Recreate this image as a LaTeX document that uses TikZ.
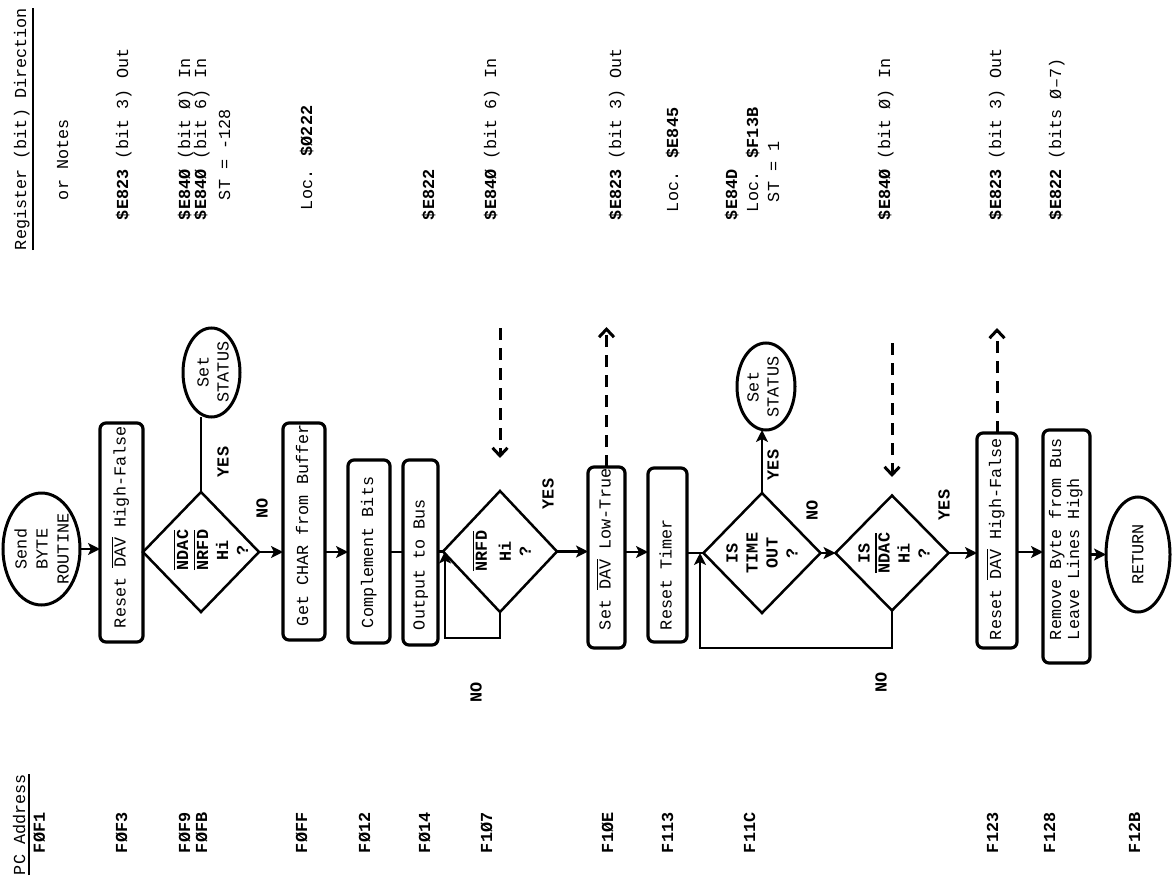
\documentclass[tikz,border=0pt]{standalone}
\usepackage{fontspec}
\setmainfont{Liberation Mono}
\usepackage{graphicx}
\usetikzlibrary{arrows.meta,shapes.geometric}
\newcommand\olx[1]{\vbox{\hrule height 1.3pt\kern 1.6pt\hbox{#1}}}
\newcommand\ulx[1]{\vtop{\hbox{#1}\kern 2.5pt\hrule height 1.8pt}}
\newcommand\boxtext[2]{\rotatebox{90}{\makebox[#1][l]{\strut #2}}}
\newcommand\cf{\fontsize{16.8}{20}\selectfont}
\begin{document}
\begin{tikzpicture}[x=1pt,y=-1pt,
  every node/.style={inner sep=0pt, outer sep=0pt, font=\cf},
  pbox/.style={draw, line width=3.2pt, rounded corners=6pt, rectangle},
  oval/.style={draw, ellipse, line width=3pt},
  dia/.style={draw, diamond, line width=2.5pt},
  ctext/.style={rotate=90, align=center},
  dtext/.style={rotate=90, align=center, font=\cf\bfseries},
  coltext/.style={rotate=90, anchor=base west},
  addr/.style={coltext, font=\cf\bfseries},
  lbl/.style={rotate=90, font=\cf\bfseries},
  con/.style={line width=2.8pt},
  arr/.style={con, -{Stealth[length=12pt,width=12pt,inset=3pt]}},
  dasharr/.style={line width=3pt, dash pattern=on 12pt off 8pt, -{Straight Barb[length=8pt,width=15pt]}},
]
\useasboundingbox (0,0) rectangle (1176,878);

% ---------- left column: PC addresses ----------
\node[coltext] (pch) at (25,875) {\ulx{PC Address}};
\node[addr] (p1) at (45,853) {FØF1};
\node[addr] (p2) at (127,853) {FØF3};
\node[addr] (p3) at (190,853) {FØF9};
\node[addr] (p4) at (207,853) {FØFB};
\node[addr] (p5) at (307,853) {FØFF};
\node[addr] (p6) at (370,853) {FØ12};
\node[addr] (p7) at (430,853) {FØ14};
\node[addr] (p8) at (492,853) {F1Ø7};
\node[addr] (p9) at (613,853) {F1ØE};
\node[addr] (p10) at (673,853) {F113};
\node[addr] (p11) at (755,853) {F11C};
\node[addr] (p12) at (998,853) {F123};
\node[addr] (p13) at (1055,853) {F128};
\node[addr] (p14) at (1140,853) {F12B};

% ---------- right column: registers / notes ----------
\node[coltext] (rh) at (26,250) {\ulx{Register (bit) Direction}};
\node[coltext] (rn) at (68,200) {or Notes};
\node[coltext] (q1) at (128,220) {\textbf{\$E823} (bit 3) Out};
\node[coltext] (q2) at (190,220) {\textbf{\$E84Ø} (bit Ø) In};
\node[coltext] (q3) at (206,220) {\textbf{\$E84Ø} (bit 6) In};
\node[coltext] (q4) at (230,200) {ST = -128};
\node[coltext] (q5) at (312,210) {Loc. \textbf{\$Ø222}};
\node[coltext] (q6) at (434,220) {\textbf{\$E822}};
\node[coltext] (q7) at (496,220) {\textbf{\$E84Ø} (bit 6) In};
\node[coltext] (q8) at (621,220) {\textbf{\$E823} (bit 3) Out};
\node[coltext] (q9) at (678,212) {Loc. \textbf{\$E845}};
\node[coltext] (q10) at (737,220) {\textbf{\$E84D}};
\node[coltext] (q11) at (758,212) {Loc. \textbf{\$F13B}};
\node[coltext] (q12) at (779,202) {ST = 1};
\node[coltext] (q13) at (890,220) {\textbf{\$E84Ø} (bit Ø) In};
\node[coltext] (q14) at (1001,220) {\textbf{\$E823} (bit 3) Out};
\node[coltext] (q15) at (1061,220) {\textbf{\$E822} (bits Ø–7)};

% ---------- flowchart shapes ----------
\coordinate (flow) at (0,552);

\node[oval, minimum width=77, minimum height=112] (start) at (41.5,549) {};
\node[ctext, font=\fontsize{16.8}{21}\selectfont] (startt) at (start.center) {Send\\BYTE\\ROUTINE};

\node[pbox, minimum width=43, minimum height=219] (r1) at (121.5,532.5)
  {\boxtext{191pt}{Reset \olx{DAV} High-False}};

\node[dia, minimum width=116, minimum height=120] (d1) at (201,552) {};
\node[dtext] (d1t) at (211,550) {\olx{NDAC}\\\olx{NRFD}\\Hi\\?};

\node[oval, minimum width=57, minimum height=89] (s1) at (211.5,372.5) {};
\node[ctext] (s1t) at (213,372) {Set\\STATUS};

\node[pbox, minimum width=42, minimum height=217] (r2) at (304,531.5)
  {\boxtext{189pt}{Get CHAR from Buffer}};
\node[pbox, minimum width=42, minimum height=183] (r3) at (369,551.5)
  {\boxtext{153pt}{Complement Bits}};
\node[pbox, minimum width=35, minimum height=185] (r4) at (420.5,552.5)
  {\boxtext{155pt}{Output to Bus}};

\node[dia, minimum width=114, minimum height=121] (d2) at (500,551.5) {};
\node[dtext] (d2t) at (502,551) {\olx{NRFD}\\[4pt]Hi\\?};

\node[pbox, minimum width=37, minimum height=181] (r5) at (606.5,557.5)
  {\boxtext{145pt}{Set \olx{DAV} Low-True}};
\node[pbox, minimum width=39, minimum height=174] (r6) at (667.5,555)
  {\boxtext{150pt}{Reset Timer}};

\node[dia, minimum width=117, minimum height=120] (d3) at (762,553) {};
\node[dtext] (d3t) at (762,553) {IS\\TIME\\OUT\\?};

\node[oval, minimum width=58, minimum height=87] (s2) at (766,386.5) {};
\node[ctext] (s2t) at (763,387) {Set\\STATUS};

\node[dia, minimum width=113, minimum height=115] (d4) at (892,553) {};
\node[dtext] (d4t) at (894,553) {IS\\\olx{NDAC}\\Hi\\?};

\node[pbox, minimum width=40, minimum height=215] (r7) at (997,540.5)
  {\boxtext{199pt}{Reset \olx{DAV} High-False}};
\node[pbox, minimum width=47, minimum height=233] (r8) at (1066.5,546.5)
  {\rotatebox{90}{\makebox[187pt][l]{\fontsize{16.8}{18}\selectfont\begin{tabular}{@{}l@{}}Remove Byte from Bus\\Leave Lines High\end{tabular}}}};

\node[oval, minimum width=64, minimum height=115] (end) at (1138,554.5) {};
\node[ctext] (endt) at (end.center) {RETURN};

% ---------- connectors ----------
\draw[arr] (start.east) -- (start.east -| r1.west);
\draw[con] (d1.north) -- (d1.north |- s1.south);
\draw[arr] (d1.east) -- (d1.east -| r2.west);
\draw[arr] (r2.east |- flow) -- (r3.west |- flow);
\draw[con] (r3.east |- flow) -- (r4.west |- flow);
\draw[con] (r4.east |- d2.west) -- (d2.west);

\coordinate (l1) at (500,638);
\coordinate (l2) at (445,638);
\draw[arr] (d2.south) -- (l1) -- (l2) -- (l2 |- d2.west);

\coordinate (dn1) at (500,328);
\coordinate (dn1e) at (500,458);
\draw[dasharr] (dn1) -- (dn1e);

\draw[arr] (d2.east) -- (d2.east -| r5.west);
\coordinate (do1) at (606.5,327);
\draw[dasharr] (r5.north) -- (do1);

\draw[arr] (r5.east |- flow) -- (r6.west |- flow);
\draw[con] (r6.east |- d3.west) -- (d3.west);
\draw[arr] (d3.north) -- (d3.north |- s2.south);
\draw[arr] (d3.east) -- (d4.west);

\coordinate (l3) at (892,648);
\coordinate (l4) at (700,648);
\draw[arr] (d4.south) -- (l3) -- (l4) -- (l4 |- d3.west);

\coordinate (dn2) at (892,343);
\coordinate (dn2e) at (892,477);
\draw[dasharr] (dn2) -- (dn2e);

\draw[arr] (d4.east) -- (d4.east -| r7.west);
\coordinate (do2) at (997,328);
\draw[dasharr] (r7.north) -- (do2);

\draw[arr] (r7.east |- flow) -- (r8.west |- flow);
\draw[arr] (r8.east |- end.west) -- (end.west);

% ---------- labels ----------
\node[lbl] (y1) at (223,462) {YES};
\node[lbl] (n1) at (262,508) {NO};
\node[lbl] (y2) at (548,494) {YES};
\node[lbl] (n2) at (476,692) {NO};
\node[lbl] (y3) at (773,465) {YES};
\node[lbl] (n3) at (812,510) {NO};
\node[lbl] (y4) at (944,505) {YES};
\node[lbl] (n4) at (881,682) {NO};
\end{tikzpicture}
\end{document}
